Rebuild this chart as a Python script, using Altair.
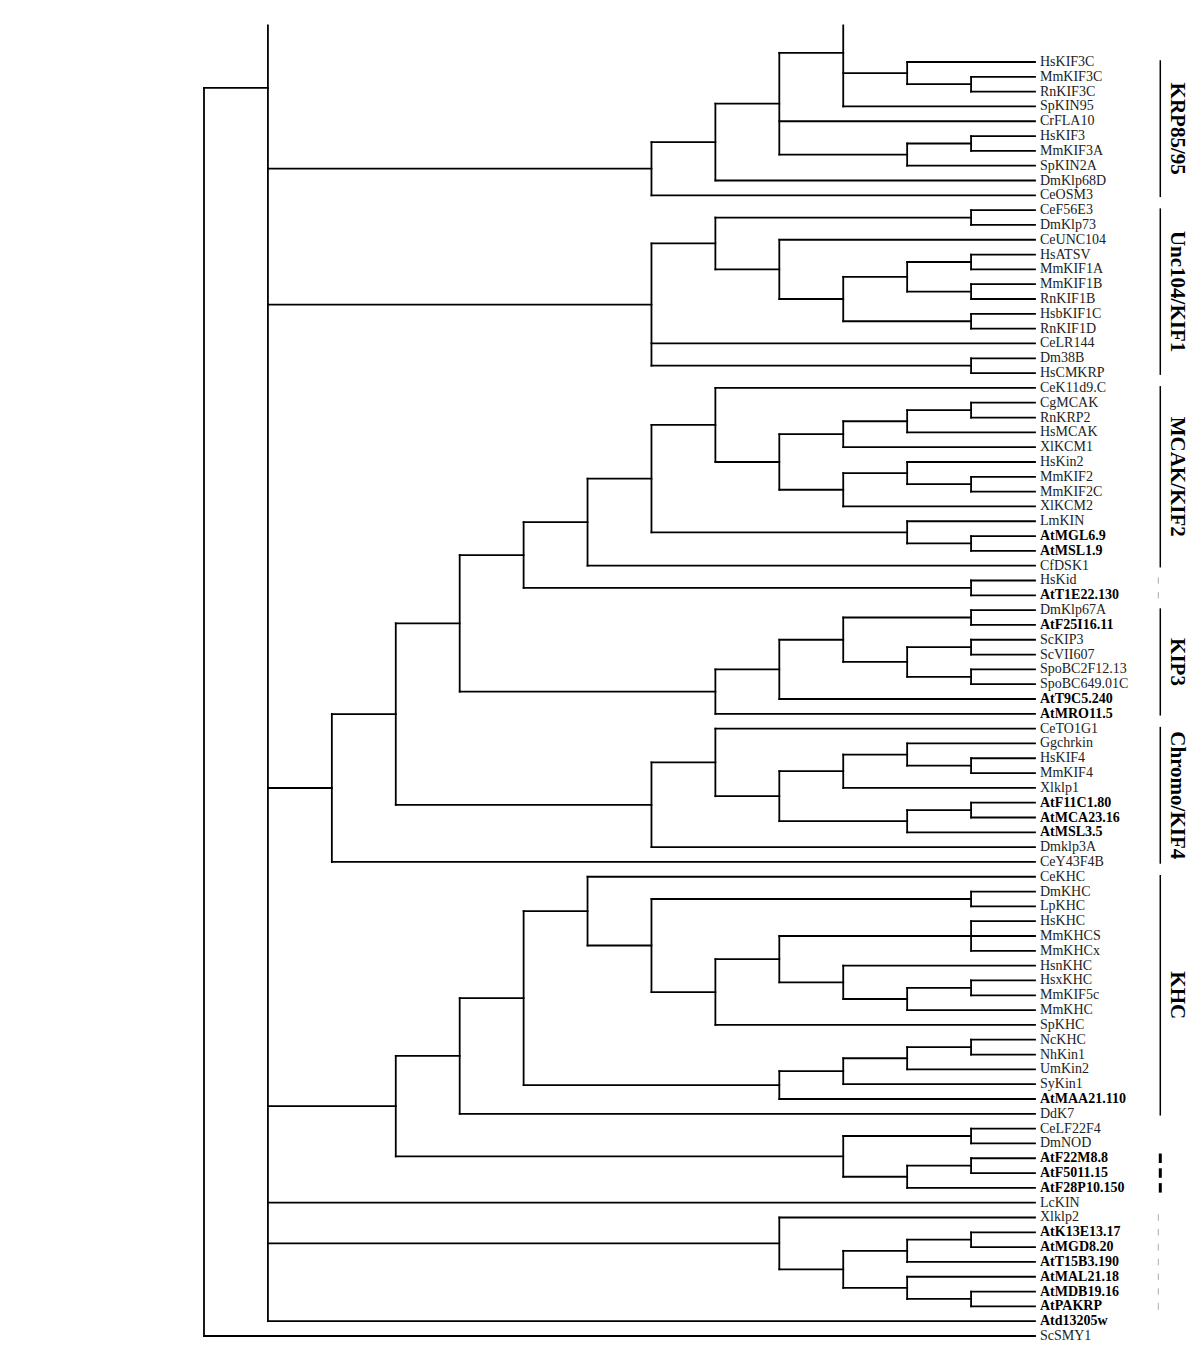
import altair as alt
import pandas as pd

# ---------------- data: tree topology (Newick-like, internal nodes tagged with depth level) ----
# "~" marks a branch that continues above the cropped top edge of the figure
KRP = "((((~,(HsKIF3C,(MmKIF3C,RnKIF3C)12)11,SpKIN95)10,CrFLA10,((HsKIF3,MmKIF3A)12,SpKIN2A)11)9,DmKlp68D)8,CeOSM3)7"
UNC = "(((CeF56E3,DmKlp73)12,(CeUNC104,(((HsATSV,MmKIF1A)12,(MmKIF1B,RnKIF1B)12)11,(HsbKIF1C,RnKIF1D)12)10)9)8,CeLR144,(Dm38B,HsCMKRP)12)7"
MCAK = "((CeK11d9.C,((((CgMCAK,RnKRP2)12,HsMCAK)11,XlKCM1)10,((HsKin2,(MmKIF2,MmKIF2C)12)11,XlKCM2)10)9)8,(LmKIN,(AtMGL6.9,AtMSL1.9)12)11)7"
KIP3 = "((((DmKlp67A,AtF25I16.11)12,((ScKIP3,ScVII607)12,(SpoBC2F12.13,SpoBC649.01C)12)11)10,AtT9C5.240)9,AtMRO11.5)8"
CHROMO = "((CeTO1G1,(((Ggchrkin,(HsKIF4,MmKIF4)12)11,Xlklp1)10,((AtF11C1.80,AtMCA23.16)12,AtMSL3.5)11)9)8,Dmklp3A)7"
KHC = "(CeKHC,((DmKHC,LpKHC)12,(((HsKHC,MmKHCS,MmKHCx)12,(HsnKHC,((HsxKHC,MmKIF5c)12,MmKHC)11)10)9,SpKHC)8)7)6"
FUNGAL = "((((NcKHC,NhKin1)12,UmKin2)11,SyKin1)10,AtMAA21.110)9"
NOD = "((CeLF22F4,DmNOD)12,((AtF22M8.8,AtF5011.15)12,AtF28P10.150)11)10"
KINC = "(Xlklp2,(((AtK13E13.17,AtMGD8.20)12,AtT15B3.190)11,(AtMAL21.18,(AtMDB19.16,AtPAKRP)12)11)10)9"

N5A = "((" + MCAK + ",CfDSK1)6,(HsKid,AtT1E22.130)12)5"
N3A = "((" + N5A + "," + KIP3 + ")4," + CHROMO + ")3"
N2 = "(" + N3A + ",CeY43F4B)2"
N3B = "(((" + KHC + "," + FUNGAL + ")5,DdK7)4," + NOD + ")3"
N1 = "(~," + KRP + "," + UNC + "," + N2 + "," + N3B + ",LcKIN," + KINC + ",Atd13205w)1"
TREE = "(" + N1 + ",ScSMY1)0"

PHANTOM_ROWS = [-80.5, -3.24]   # row positions of the cropped branches, in order of appearance
TOP_ROW = -1.47                 # figure is cropped at this row
LEAF_LEVEL = 13

GROUP_NAMES = ["KRP85/95", "Unc104/KIF1", "MCAK/KIF2", "KIP3", "Chromo/KIF4", "KHC"]
GROUP_FIRST = ["HsKIF3C", "CeF56E3", "CeK11d9.C", "DmKlp67A", "CeTO1G1", "CeKHC"]
GROUP_LAST = ["CeOSM3", "HsCMKRP", "CfDSK1", "AtMRO11.5", "CeY43F4B", "DdK7"]
GRAY_TICKS = ["HsKid", "AtT1E22.130", "Xlklp2", "AtK13E13.17", "AtMGD8.20",
              "AtT15B3.190", "AtMAL21.18", "AtMDB19.16", "AtPAKRP"]
BLACK_TICKS = ["AtF22M8.8", "AtF5011.15", "AtF28P10.150"]


# ---------------- parse & layout ----------------
def parse(s):
    pos = 0

    def node():
        nonlocal pos
        if s[pos] == "(":
            pos += 1
            kids = [node()]
            while s[pos] == ",":
                pos += 1
                kids.append(node())
            pos += 1  # ')'
            st = pos
            while pos < len(s) and s[pos] not in ",)":
                pos += 1
            return {"level": float(s[st:pos]), "children": kids}
        st = pos
        while s[pos] not in ",)":
            pos += 1
        return {"name": s[st:pos]}

    return node()


tree = parse(TREE)
segs, leaves = [], []
state = {"row": 1, "ph": iter(PHANTOM_ROWS)}


def layout(n):
    if "name" in n:
        n["x"] = LEAF_LEVEL
        if n["name"] == "~":
            n["y"] = next(state["ph"])
            n["phantom"] = True
        else:
            n["y"] = state["row"]
            state["row"] += 1
            leaves.append({"name": n["name"], "x": LEAF_LEVEL, "y": n["y"],
                           "bold": n["name"].startswith("At")})
        return
    for c in n["children"]:
        layout(c)
    ks = n["children"]
    n["x"] = n["level"]
    n["y"] = (ks[0]["y"] + ks[-1]["y"]) / 2
    segs.append({"x": n["x"], "x2": n["x"], "y": max(ks[0]["y"], TOP_ROW), "y2": ks[-1]["y"]})
    for c in ks:
        if not c.get("phantom"):
            segs.append({"x": n["x"], "x2": c["x"], "y": c["y"], "y2": c["y"]})


layout(tree)
seg_df = pd.DataFrame(segs)
leaf_df = pd.DataFrame(leaves)
row_of = {d["name"]: d["y"] for d in leaves}

BRACKET_X = 14.96
LABEL_X = 15.22
grp_df = pd.DataFrame({
    "name": GROUP_NAMES,
    "x": BRACKET_X,
    "y": [row_of[a] - 0.12 for a in GROUP_FIRST],
    "y2": [row_of[b] + 0.12 for b in GROUP_LAST],
    "xl": LABEL_X,
    "ym": [(row_of[a] + row_of[b]) / 2 for a, b in zip(GROUP_FIRST, GROUP_LAST)],
})
gray_df = pd.DataFrame({"x": BRACKET_X - 0.03,
                        "y": [row_of[n] - 0.22 for n in GRAY_TICKS],
                        "y2": [row_of[n] + 0.22 for n in GRAY_TICKS]})
black_df = pd.DataFrame({"x": BRACKET_X,
                         "y": [row_of[n] - 0.32 for n in BLACK_TICKS],
                         "y2": [row_of[n] + 0.32 for n in BLACK_TICKS]})

# ---------------- scales (plot area = whole chart) ----------------
W, H = 1184, 1336
X0_PX, XLEAF_PX = 196, 1027          # level 0 and leaf level in local px
ROW1_PX, ROWN_PX = 54, 1328          # first and last leaf rows in local px
n_rows = len(leaves)
dx = (XLEAF_PX - X0_PX) / LEAF_LEVEL
X_LO = -X0_PX / dx
X_HI = X_LO + W / dx
dy = (ROWN_PX - ROW1_PX) / (n_rows - 1)
Y_LO = 1 - ROW1_PX / dy
Y_HI = Y_LO + H / dy

xs = alt.Scale(domain=[X_LO, X_HI], range=[0, W], nice=False, zero=False)
ys = alt.Scale(domain=[Y_LO, Y_HI], range=[0, H], nice=False, zero=False)
X = lambda f: alt.X(f, type="quantitative", scale=xs, axis=None)
Y = lambda f: alt.Y(f, type="quantitative", scale=ys, axis=None)

FONT = "Liberation Serif"

branches = alt.Chart(seg_df).mark_rule(color="black", strokeWidth=1.8, strokeCap="square").encode(
    x=X("x"), x2="x2", y=Y("y"), y2="y2")

base_lbl = alt.Chart(leaf_df)
lbl_norm = base_lbl.transform_filter("!datum.bold").mark_text(
    align="left", baseline="middle", dx=5, font=FONT, fontSize=14, color="#222").encode(
    x=X("x"), y=Y("y"), text="name:N")
lbl_bold = base_lbl.transform_filter("datum.bold").mark_text(
    align="left", baseline="middle", dx=5, font=FONT, fontSize=14, fontWeight="bold",
    color="black").encode(x=X("x"), y=Y("y"), text="name:N")

brackets = alt.Chart(grp_df).mark_rule(color="black", strokeWidth=1.5).encode(
    x=X("x"), y=Y("y"), y2="y2")
grp_labels = alt.Chart(grp_df).mark_text(
    angle=90, align="center", baseline="middle", font=FONT, fontSize=21,
    fontWeight="bold", color="black").encode(x=X("xl"), y=Y("ym"), text="name:N")
gray_ticks = alt.Chart(gray_df).mark_rule(color="#bbbbbb", strokeWidth=1.2).encode(
    x=X("x"), y=Y("y"), y2="y2")
black_ticks = alt.Chart(black_df).mark_rule(color="black", strokeWidth=3).encode(
    x=X("x"), y=Y("y"), y2="y2")

chart = alt.layer(branches, lbl_norm, lbl_bold, brackets, grp_labels, gray_ticks, black_ticks).properties(
    width=W, height=H, autosize=alt.AutoSizeParams(type="none"), padding=0,
    background="white",
).configure_view(strokeWidth=0)

chart.save("out.html", embed_options={"renderer": "svg", "actions": False})
